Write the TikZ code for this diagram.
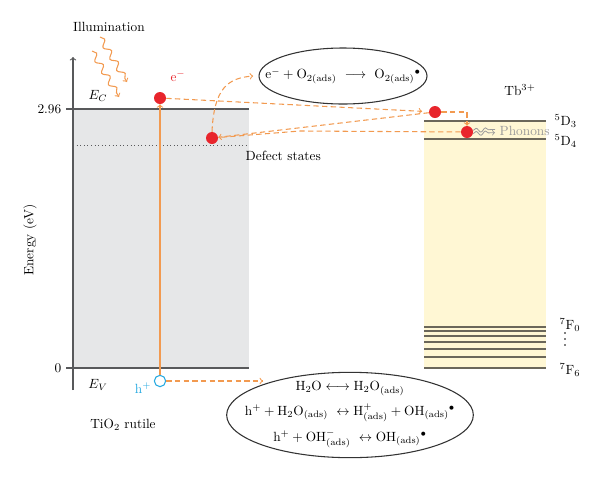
\documentclass[tikz,border=0pt]{standalone}
\usetikzlibrary{shapes.geometric,decorations.pathmorphing}
\definecolor{glow}{HTML}{F29A50}
\definecolor{elec}{HTML}{E8252C}
\definecolor{hole}{HTML}{27AAE1}
\definecolor{band}{HTML}{E6E7E8}
\definecolor{tbfill}{HTML}{FFF7D4}
\definecolor{axisgray}{HTML}{58595B}
\definecolor{tbline}{HTML}{6B675A}
\definecolor{phgray}{HTML}{9A9A9A}
\tikzset{
  edot/.style={circle,fill=elec,inner sep=0pt,minimum size=9pt},
  hdot/.style={circle,draw=hole,line width=0.8pt,fill=white,inner sep=0pt,minimum size=8.5pt},
  flow/.style={glow,line width=0.8pt,dash pattern=on 4pt off 2.5pt},
  bubble/.style={ellipse,draw=black!80,line width=0.8pt,inner sep=0pt},
  level/.style={tbline,line width=1pt},
  light/.style={glow,line width=0.8pt,decorate,decoration={snake,amplitude=2.2pt,segment length=10pt,post length=3pt}},
  wave/.style={phgray,line width=0.6pt,decorate,decoration={snake,amplitude=1.5pt,segment length=7pt,post length=2pt}}
}
\begin{document}
\begin{tikzpicture}[x=0.75pt,y=-0.75pt]
\useasboundingbox (0,0) rectangle (600,483);
\fill[band] (73,109) rectangle (249,368);
\fill[tbfill] (424,121) rectangle (546,368);
\draw[axisgray,line width=0.8pt,->] (73,390) -- (73,57);
\draw[axisgray,line width=0.8pt] (66,109) -- (249,109);
\draw[axisgray,line width=0.8pt] (66,368) -- (249,368);
\draw[axisgray,dotted,line width=0.7pt] (73,145) -- (249,145);
\foreach \lev in {121,139,327,331,336,342,349,357,368}
  \draw[level] (424,\lev) -- (546,\lev);
\node (illum) at (109,27) {Illumination};
\node (ec) at (98,96) {$E_C$};
\node (ev) at (98,385) {$E_V$};
\node[anchor=east] (gap) at (66,109) {2.96};
\node[anchor=east] (zero) at (66,368) {0};
\node[rotate=90] (energy) at (30,240) {Energy (eV)};
\node (tio) at (123,425) {TiO$_2$ rutile};
\node[anchor=west] (defect) at (241,156) {Defect states};
\node (tb) at (520,90) {Tb$^{3+}$};
\node[anchor=west] (d3) at (550,121) {$^5$D$_3$};
\node[anchor=west] (d4) at (550,141) {$^5$D$_4$};
\node[anchor=west] (f0) at (555,325) {$^7$F$_0$};
\node[anchor=west] (f6) at (555,370) {$^7$F$_6$};
\foreach \lev in {333,339,345}
  \fill (565,\lev) circle (0.6pt);
\draw[light,->] (100,37) -- (127,82);
\draw[light,->] (92,51) -- (119,97);
\node[edot] (e1) at (160,98) {};
\node[hdot] (h1) at (160,381) {};
\node[edot] (d1) at (212,138) {};
\node[edot] (t1) at (435,112) {};
\node[edot] (t2) at (467,132) {};
\node[text=elec] (elab) at (178,76) {$\mathrm{e}^-$};
\node[text=hole] (hlab) at (143,388) {$\mathrm{h}^+$};
\node[bubble,minimum width=126pt,minimum height=42pt] (oxy) at (343,76) {};
\node (oxyrxn) at (oxy) {$\mathrm{e^- + O_{2(ads)}\ \longrightarrow\ O_{2(ads)}{}^{\bullet}}$};
\node[bubble,minimum width=185pt,minimum height=64pt] (water) at (350,415) {};
\node[align=center] (waterrxn) at (water) {$\mathrm{H_2O \longleftrightarrow H_2O_{(ads)}}$\\[5pt]
  $\mathrm{h^+ + H_2O_{(ads)}\ \leftrightarrow H^+_{(ads)} + OH_{(ads)}{}^{\bullet}}$\\[5pt]
  $\mathrm{h^+ + OH^-_{(ads)}\ \leftrightarrow OH_{(ads)}{}^{\bullet}}$};
\node[anchor=west,text=phgray] (phon) at (495,131) {Phonons};
\coordinate (bend) at (300,131);
\coordinate (hend) at (263,381);
\draw[glow,line width=0.8pt,->] (h1) -- (e1);
\draw[flow,->,shorten >=5pt] (e1) -- (t1);
\draw[flow,->] (t1) -- (d1);
\draw[flow] (t2) -- (bend) -- (d1);
\draw[flow,->] (t1) -| (t2);
\draw[flow,->] (d1.north) .. controls (214,88) and (228,78) .. ([xshift=-4pt]oxy.west);
\draw[flow,->] (h1) -- (hend);
\draw[wave,->] ([yshift=-1.2pt]t2.east) -- ([yshift=-1.2pt]phon.west);
\draw[wave] ([yshift=1.2pt]t2.east) -- ([yshift=1.2pt]phon.west);
\end{tikzpicture}
\end{document}
